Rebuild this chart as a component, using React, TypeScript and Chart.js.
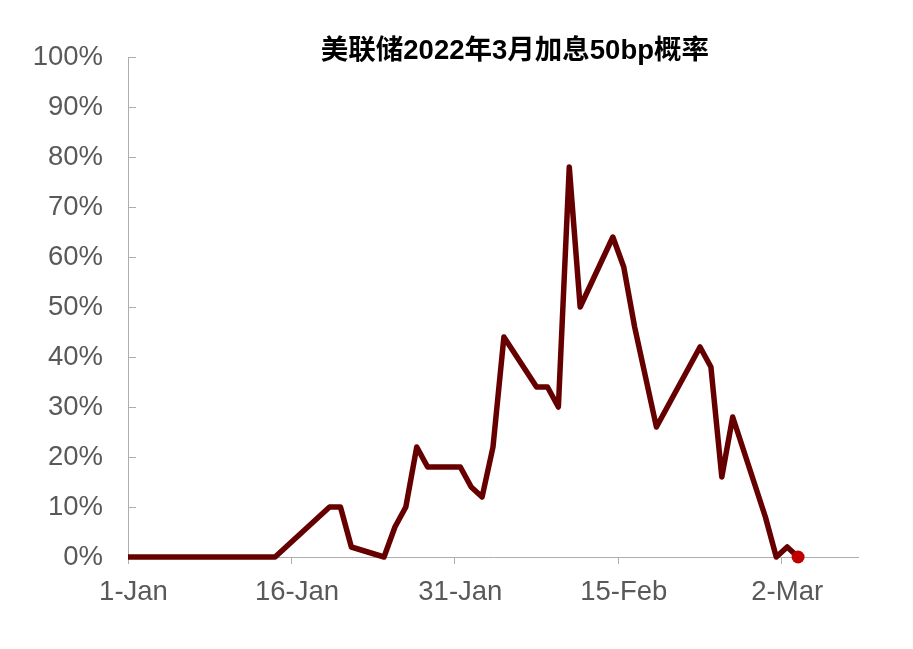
import { useEffect, useRef } from "react";
import { Chart, registerables } from "chart.js";

Chart.register(...registerables);

const titleText = "美联储2022年3月加息50bp概率";

const dates = [
  "2021-12-31", "2022-01-03", "2022-01-04", "2022-01-05", "2022-01-06", "2022-01-07",
  "2022-01-10", "2022-01-11", "2022-01-12", "2022-01-13", "2022-01-14",
  "2022-01-19", "2022-01-20", "2022-01-21", "2022-01-24", "2022-01-25", "2022-01-26",
  "2022-01-27", "2022-01-28", "2022-01-31", "2022-02-01", "2022-02-02", "2022-02-03",
  "2022-02-04", "2022-02-07", "2022-02-08", "2022-02-09", "2022-02-10", "2022-02-11",
  "2022-02-14", "2022-02-15", "2022-02-16", "2022-02-18", "2022-02-22", "2022-02-23",
  "2022-02-24", "2022-02-25", "2022-02-28", "2022-03-01", "2022-03-02", "2022-03-03",
];

const probabilities = [
  0, 0, 0, 0, 0, 0,
  0, 0, 0, 0, 0,
  10, 10, 2, 0, 6, 10,
  22, 18, 18, 14, 12, 22,
  44, 34, 34, 30, 78, 50,
  64, 58, 46, 26, 42, 38,
  16, 28, 8, 0, 2, 0,
];

const latestDate = "2022-03-03";
const latestValue = 0;

const xTickDates = ["2022-01-01", "2022-01-16", "2022-01-31", "2022-02-15", "2022-03-02"];
const xTickLabels = ["1-Jan", "16-Jan", "31-Jan", "15-Feb", "2-Mar"];
const axisStartDate = "2022-01-01";
const axisEndDate = "2022-03-09";
const yTicks = [0, 10, 20, 30, 40, 50, 60, 70, 80, 90, 100];

const DAY_MS = 86400000;
function dayIndex(s: string): number {
  const [y, m, d] = s.split("-").map(Number);
  const [y0, m0, d0] = axisStartDate.split("-").map(Number);
  return Math.round((Date.UTC(y, m - 1, d) - Date.UTC(y0, m0 - 1, d0)) / DAY_MS);
}

const LINE_COLOR = "#660000";
const DOT_COLOR = "#C00000";
const AXIS_COLOR = "#ADADAD";
const TEXT_COLOR = "#595959";
const FONT_FAMILY = "'Liberation Sans', Arial, 'Noto Sans CJK SC', sans-serif";

const decorPlugin = {
  id: "decor",
  beforeDatasetsDraw(chart: any) {
    const { ctx, chartArea, scales } = chart;
    const y = scales.y;
    ctx.save();
    ctx.strokeStyle = AXIS_COLOR;
    ctx.lineWidth = 1;
    yTicks.forEach((v) => {
      if (v === 0) return;
      const py = Math.round(y.getPixelForValue(v)) + 0.5;
      ctx.beginPath();
      ctx.moveTo(chartArea.left, py);
      ctx.lineTo(chartArea.left + 8, py);
      ctx.stroke();
    });
    ctx.restore();
  },
  afterDraw(chart: any) {
    const { ctx, chartArea } = chart;
    ctx.save();
    ctx.fillStyle = "#000000";
    ctx.font = "bold 27.5px 'Liberation Sans', Arial, 'Noto Sans CJK SC', sans-serif";
    ctx.textAlign = "center";
    ctx.textBaseline = "middle";
    const cx = chartArea.left + (chartArea.right - chartArea.left) * 0.53;
    ctx.fillText(titleText, cx, 51);
    ctx.restore();
  },
};

export default function App() {
  const canvasRef = useRef<HTMLCanvasElement | null>(null);

  useEffect(() => {
    if (!canvasRef.current) return;
    const points = dates.map((d, i) => ({ x: dayIndex(d) + 0.5, y: probabilities[i] }));
    const latest = [{ x: dayIndex(latestDate) + 0.5, y: latestValue }];
    const tickValues = xTickDates.map(dayIndex);

    const chart = new Chart(canvasRef.current, {
      type: "line",
      data: {
        datasets: [
          {
            label: "latest",
            data: latest,
            showLine: false,
            pointRadius: 6.5,
            pointBackgroundColor: DOT_COLOR,
            pointBorderColor: DOT_COLOR,
            pointBorderWidth: 0,
            clip: 10,
            order: 0,
          } as any,
          {
            label: "50bp",
            data: points,
            borderColor: LINE_COLOR,
            borderWidth: 5.5,
            pointRadius: 0,
            tension: 0,
            borderJoinStyle: "round",
            borderCapStyle: "butt",
            clip: { left: 0, right: 10, top: 10, bottom: 10 },
            order: 1,
          } as any,
        ],
      },
      options: {
        responsive: false,
        animation: false,
        layout: { padding: { top: 57, right: 55, left: 0, bottom: 0 } },
        plugins: {
          legend: { display: false },
          title: { display: false },
          tooltip: { enabled: false },
        },
        scales: {
          x: {
            type: "linear",
            min: dayIndex(axisStartDate),
            max: dayIndex(axisEndDate),
            afterBuildTicks: (scale: any) => {
              scale.ticks = tickValues.map((v) => ({ value: v }));
            },
            afterFit: (scale: any) => {
              scale.height = 92;
            },
            ticks: {
              autoSkip: false,
              maxRotation: 0,
              padding: 12,
              labelOffset: 5.5,
              color: TEXT_COLOR,
              font: { family: FONT_FAMILY, size: 27.5 },
              callback: (v: any) => {
                const idx = tickValues.indexOf(Number(v));
                return idx >= 0 ? xTickLabels[idx] : "";
              },
            },
            grid: {
              display: true,
              drawOnChartArea: false,
              drawTicks: true,
              tickLength: 7,
              color: AXIS_COLOR,
              lineWidth: 1,
            },
            border: { display: true, color: AXIS_COLOR, width: 1 },
          },
          y: {
            type: "linear",
            min: 0,
            max: 100,
            afterBuildTicks: (scale: any) => {
              scale.ticks = yTicks.map((v) => ({ value: v }));
            },
            afterFit: (scale: any) => {
              scale.width = 128;
            },
            ticks: {
              padding: 25,
              color: TEXT_COLOR,
              font: { family: FONT_FAMILY, size: 27.5 },
              callback: (v: any) => `${v}%`,
            },
            grid: { display: false, drawTicks: false },
            border: { display: true, color: AXIS_COLOR, width: 1 },
          },
        },
      },
      plugins: [decorPlugin],
    });

    return () => chart.destroy();
  }, []);

  return (
    <div style={{ position: "fixed", left: 0, top: 0, width: 913, height: 649, background: "#ffffff" }}>
      <canvas ref={canvasRef} width={913} height={649} style={{ display: "block" }} />
    </div>
  );
}
